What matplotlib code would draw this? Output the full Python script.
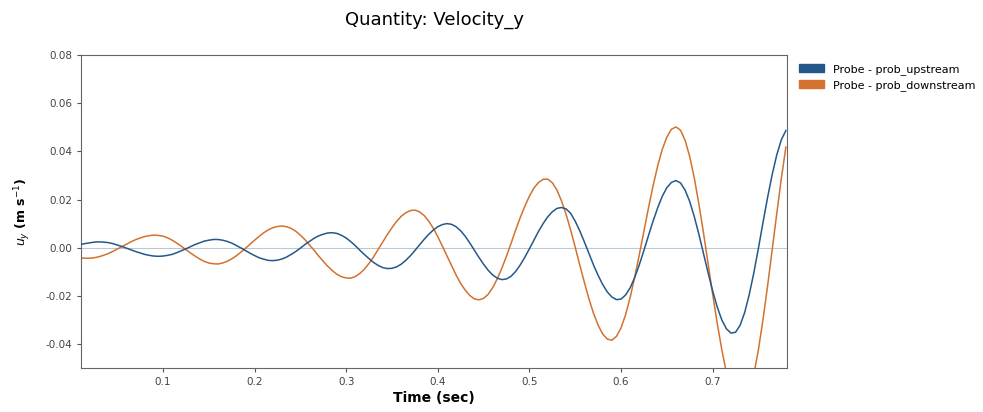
import numpy as np
import matplotlib
matplotlib.use("Agg")
import matplotlib.pyplot as plt
import matplotlib.patches as mpatches

# sample times (s), every 5 ms
time = np.round(np.arange(0.010, 0.7801, 0.005), 3)

# velocity u_y (m/s)
upstream = [
    0.0013, 0.0017, 0.0020, 0.0023, 0.0024, 0.0023, 0.0021, 0.0017, 0.0011, 0.0005,
    -0.0002, -0.0009, -0.0016, -0.0022, -0.0028, -0.0032, -0.0035, -0.0036, -0.0035, -0.0032,
    -0.0028, -0.0021, -0.0013, -0.0005, 0.0004, 0.0013, 0.0020, 0.0027, 0.0031, 0.0034,
    0.0034, 0.0031, 0.0026, 0.0019, 0.0009, -0.0001, -0.0012, -0.0023, -0.0033, -0.0042,
    -0.0048, -0.0053, -0.0054, -0.0052, -0.0047, -0.0039, -0.0028, -0.0016, -0.0002, 0.0013,
    0.0026, 0.0039, 0.0049, 0.0056, 0.0061, 0.0062, 0.0059, 0.0051, 0.0040, 0.0025,
    0.0008, -0.0011, -0.0029, -0.0046, -0.0062, -0.0074, -0.0083, -0.0087, -0.0086, -0.0080,
    -0.0069, -0.0053, -0.0034, -0.0012, 0.0011, 0.0034, 0.0055, 0.0073, 0.0087, 0.0096,
    0.0100, 0.0097, 0.0087, 0.0070, 0.0047, 0.0019, -0.0011, -0.0041, -0.0069, -0.0094,
    -0.0114, -0.0127, -0.0133, -0.0130, -0.0119, -0.0099, -0.0072, -0.0040, -0.0005, 0.0032,
    0.0068, 0.0100, 0.0128, 0.0149, 0.0163, 0.0167, 0.0161, 0.0143, 0.0110, 0.0070,
    0.0024, -0.0024, -0.0072, -0.0115, -0.0153, -0.0184, -0.0205, -0.0216, -0.0214, -0.0197,
    -0.0167, -0.0124, -0.0071, -0.0012, 0.0050, 0.0110, 0.0165, 0.0213, 0.0249, 0.0271,
    0.0279, 0.0269, 0.0239, 0.0192, 0.0129, 0.0056, -0.0023, -0.0103, -0.0179, -0.0246,
    -0.0300, -0.0337, -0.0355, -0.0352, -0.0323, -0.0270, -0.0195, -0.0105, -0.0003, 0.0104,
    0.0208, 0.0303, 0.0385, 0.0448, 0.0487,
]
downstream = [
    -0.0043, -0.0044, -0.0044, -0.0042, -0.0038, -0.0032, -0.0025, -0.0016, -0.0006, 0.0004,
    0.0014, 0.0024, 0.0033, 0.0040, 0.0046, 0.0050, 0.0052, 0.0051, 0.0048, 0.0041,
    0.0031, 0.0019, 0.0006, -0.0008, -0.0022, -0.0035, -0.0047, -0.0057, -0.0064, -0.0067,
    -0.0068, -0.0064, -0.0057, -0.0047, -0.0034, -0.0019, -0.0003, 0.0014, 0.0031, 0.0047,
    0.0062, 0.0074, 0.0083, 0.0088, 0.0090, 0.0087, 0.0080, 0.0068, 0.0052, 0.0033,
    0.0011, -0.0011, -0.0035, -0.0057, -0.0078, -0.0096, -0.0111, -0.0121, -0.0126, -0.0127,
    -0.0120, -0.0107, -0.0089, -0.0065, -0.0038, -0.0007, 0.0024, 0.0055, 0.0083, 0.0109,
    0.0130, 0.0145, 0.0154, 0.0156, 0.0149, 0.0134, 0.0111, 0.0081, 0.0046, 0.0006,
    -0.0035, -0.0075, -0.0114, -0.0149, -0.0177, -0.0199, -0.0213, -0.0217, -0.0211, -0.0194,
    -0.0166, -0.0129, -0.0085, -0.0035, 0.0018, 0.0073, 0.0125, 0.0172, 0.0214, 0.0248,
    0.0271, 0.0284, 0.0285, 0.0270, 0.0240, 0.0195, 0.0139, 0.0074, 0.0002, -0.0072,
    -0.0144, -0.0213, -0.0273, -0.0322, -0.0359, -0.0380, -0.0385, -0.0369, -0.0334, -0.0279,
    -0.0207, -0.0122, -0.0029, 0.0068, 0.0165, 0.0257, 0.0339, 0.0408, 0.0459, 0.0492,
    0.0502, 0.0488, 0.0446, 0.0379, 0.0290, 0.0182, 0.0063, -0.0064, -0.0192, -0.0313,
    -0.0423, -0.0518, -0.0589, -0.0636, -0.0655, -0.0645, -0.0602, -0.0527, -0.0425, -0.0300,
    -0.0160, -0.0010, 0.0140, 0.0286, 0.0418,
]

labels = ["Probe - prob_upstream", "Probe - prob_downstream"]
colors = ["#24588a", "#d2722e"]
yticks = [-0.04, -0.02, 0.00, 0.02, 0.04, 0.06, 0.08]
xticks = [0.1, 0.2, 0.3, 0.4, 0.5, 0.6, 0.7]

fig = plt.figure(figsize=(9.83, 4.12), dpi=100)
ax = fig.add_axes([0.0824, 0.107, 0.718, 0.759])

ax.axhline(0, color="#b9c9d9", linewidth=0.8, zorder=1)
ax.plot(time, upstream, color=colors[0], linewidth=1.1, zorder=3)
ax.plot(time, downstream, color=colors[1], linewidth=1.1, zorder=2)

ax.set_xlim(0.0105, 0.781)
ax.set_ylim(-0.05, 0.08)
ax.set_xticks(xticks)
ax.set_yticks(yticks)
ax.set_xticklabels([f"{v:.1f}" for v in xticks])
ax.set_yticklabels([f"{v:.2f}" for v in yticks])
ax.tick_params(labelsize=7.5, length=3, color="#555555", labelcolor="#444444")
for s in ax.spines.values():
    s.set_color("#666666")

ax.set_xlabel("Time (sec)", fontsize=10, fontweight="bold", labelpad=3)
ax.set_ylabel(r"$u_y$ (m s$^{-1}$)", fontsize=9, fontweight="bold", labelpad=9)
fig.suptitle("Quantity: Velocity_y", fontsize=13, x=0.442, y=0.975)

handles = [mpatches.Patch(color=c, label=l) for c, l in zip(colors, labels)]
fig.legend(handles=handles, loc="upper left", bbox_to_anchor=(0.803, 0.87),
           frameon=False, fontsize=8, handlelength=2.2, handleheight=0.8,
           labelspacing=0.45)

fig.savefig("out.png", dpi=100)
